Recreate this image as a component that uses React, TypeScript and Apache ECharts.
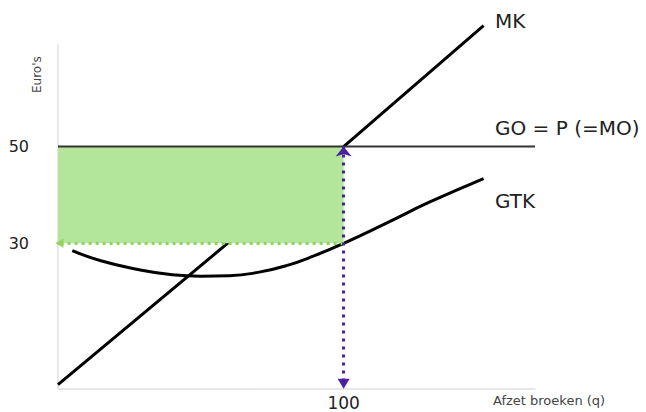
import React, { useEffect, useRef } from "react";
import * as echarts from "echarts";

const mkData: [number, number][] = [[0, 0.8], [100, 50], [149, 75]];
const goData: [number, number][] = [[0, 50], [167, 50]];
const gtkData: [number, number][] = [
  [5, 28.5], [15, 26.4], [28, 24.6], [40, 23.5], [50, 23.2], [60, 23.3],
  [70, 24], [80, 25.4], [90, 27.5], [100, 30], [115, 34.2], [130, 38.5], [149, 43.4],
];
const qOpt = 100;
const price = 50;
const gtkAtOpt = 30;
const yTicks = [30, 50];
const xTicks = [100];
const labels = { mk: "MK", go: "GO = P (=MO)", gtk: "GTK", x: "Afzet broeken (q)", y: "Euro's" };

const FONT = "'DejaVu Sans', sans-serif";

export default function App() {
  const ref = useRef<HTMLDivElement>(null);
  useEffect(() => {
    document.body.style.margin = "0";
    if (!ref.current) return;
    const chart = echarts.init(ref.current, undefined, { renderer: "svg" });
    chart.setOption({
      animation: false,
      backgroundColor: "#fff",
      grid: { left: 58, right: 111, top: 45, bottom: 23.5 },
      xAxis: {
        type: "value", min: 0, max: 167,
        axisLine: { show: true, lineStyle: { color: "#e0e0e0", width: 1.5 } },
        axisTick: { show: false },
        splitLine: { show: false },
        axisLabel: { customValues: xTicks, color: "#222", fontSize: 17, fontFamily: FONT, margin: 6 },
      },
      yAxis: {
        type: "value", min: 0, max: 71,
        axisLine: { show: true, lineStyle: { color: "#e0e0e0", width: 1.5 } },
        axisTick: { show: false },
        splitLine: { show: false },
        axisLabel: { customValues: yTicks, color: "#222", fontSize: 16, fontFamily: FONT, margin: 29 },
      },
      series: [
        {
          type: "line", data: mkData, symbol: "none", clip: false,
          lineStyle: { color: "#000", width: 3 }, z: 2,
        },
        {
          type: "line", data: gtkData, symbol: "none", smooth: true, clip: false,
          lineStyle: { color: "#000", width: 3 }, z: 2,
        },
        {
          type: "line", data: [], symbol: "none", z: 3,
          markArea: {
            silent: true, z: 3,
            itemStyle: { color: "#b3e59a" },
            data: [[{ coord: [0, price] }, { coord: [qOpt, gtkAtOpt] }]],
          },
        },
        {
          type: "line", data: goData, symbol: "none", clip: false,
          lineStyle: { color: "#333", width: 2 }, z: 4,
        },
        {
          type: "line", data: [], symbol: "none", z: 5,
          markLine: {
            silent: true, z: 5, symbol: ["none", "triangle"], symbolSize: [9, 8],
            label: { show: false },
            lineStyle: { color: "#8fd661", type: [3, 4], width: 3 },
            data: [[{ coord: [qOpt, gtkAtOpt] }, { coord: [0.5, gtkAtOpt] }]],
          },
        },
        {
          type: "line", data: [], symbol: "none", z: 6,
          markLine: {
            silent: true, z: 6, symbol: ["arrow", "triangle"], symbolSize: [12, 10],
            label: { show: false },
            lineStyle: { color: "#4b1fa0", type: [3, 5], width: 3 },
            data: [[{ coord: [qOpt, price] }, { coord: [qOpt, 1] }]],
          },
        },
      ],
      graphic: [
        { type: "text", left: 495, top: 11, style: { text: labels.mk, fontSize: 20, fontFamily: FONT, fill: "#222" } },
        { type: "text", left: 495, top: 118, style: { text: labels.go, fontSize: 20, fontFamily: FONT, fill: "#222" } },
        { type: "text", left: 495, top: 191, style: { text: labels.gtk, fontSize: 20, fontFamily: FONT, fill: "#222" } },
        { type: "text", left: 493, top: 394, style: { text: labels.x, fontSize: 13, fontFamily: FONT, fill: "#444" } },
        { type: "text", x: 31, y: 93, rotation: Math.PI / 2, style: { text: labels.y, fontSize: 12, fontFamily: FONT, fill: "#444" } },
      ],
    });
    return () => chart.dispose();
  }, []);
  return <div ref={ref} style={{ width: 646, height: 412 }} />;
}
